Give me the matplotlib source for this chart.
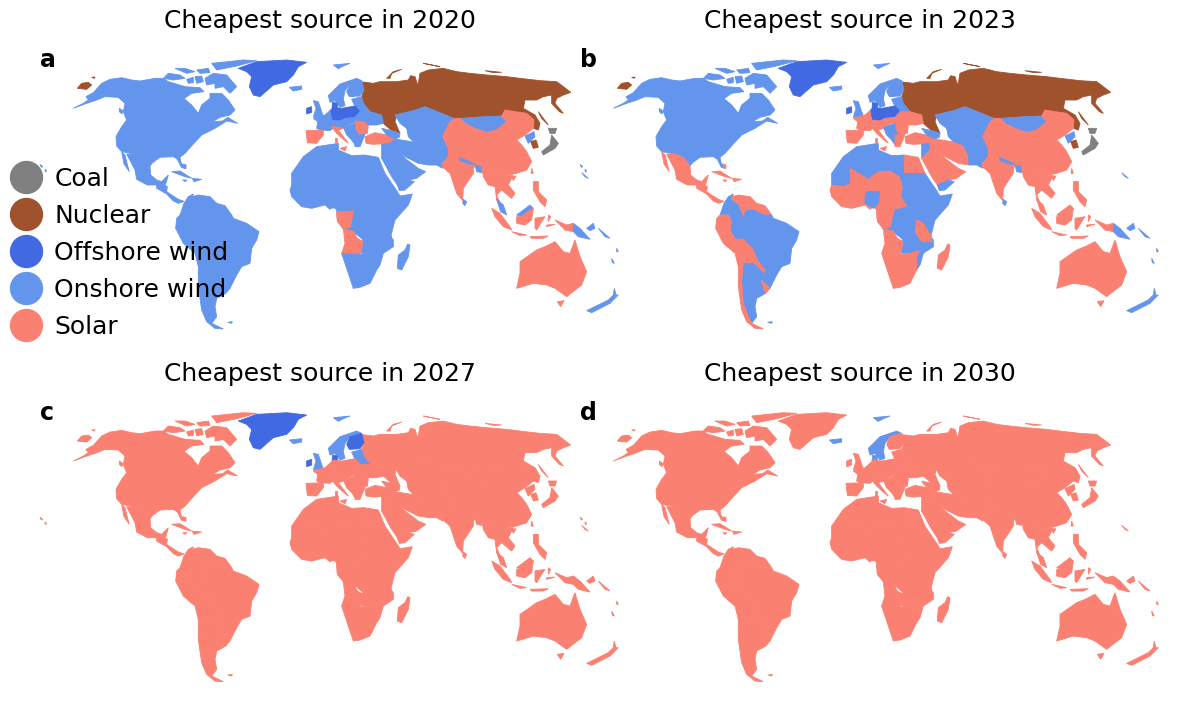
import matplotlib
matplotlib.use('Agg')
import matplotlib.pyplot as plt
from matplotlib.lines import Line2D
from matplotlib.patches import Polygon
import numpy as np

years = [2020, 2023, 2027, 2030]
panel_letters = ['a', 'b', 'c', 'd']

source_names = {'C': 'Coal', 'N': 'Nuclear', 'F': 'Offshore wind', 'O': 'Onshore wind', 'S': 'Solar'}
source_colors = {'C': 'gray', 'N': 'sienna', 'F': 'royalblue', 'O': 'cornflowerblue', 'S': 'salmon'}

# Outlines, in map units. Americas first, then the rest of the world.
west_regions = {
    'canada_usa': [
        [(40,205),(70,190),(85,180),(78,170),(100,158),(125,130),(150,118),(185,113),(215,120),(240,123),(285,115),(310,115),(325,125),(375,140),(420,143),(432,155),(395,160),(372,176),(395,195),(415,220),(425,195),(450,175),(450,160),(485,160),(505,180),(525,210),(510,225),(480,232),(458,245),(488,243),(503,232),(533,250),(500,243),(465,265),(425,285),(400,312),(375,340),(360,352),(362,365),(374,385),(364,382),(352,358),(340,350),(300,352),(278,368),(270,378),(250,352),(225,342),(185,335),(170,318),(168,290),(185,260),(200,240),(190,215),(195,190),(175,172),(135,170),(105,182),(80,190)],
        [(435,115),(460,100),(500,105),(530,140),(510,160),(490,140),(465,145),(465,130),(440,135)],
        [(310,115),(325,100),(360,105),(375,115),(340,120)],
        [(345,85),(375,85),(405,95),(380,100)],
        [(455,70),(550,60),(590,62),(530,78),(470,90)],
        [(405,110),(425,108),(430,125),(410,130)],
        [(380,118),(400,112),(400,128),(385,130)],
        [(410,90),(445,85),(450,98),(420,100)],
        [(178,205),(188,212),(186,222),(178,215)],
    ],
    'chukotka': [[(52,145),(65,130),(85,127),(95,135),(80,148)], [(95,112),(105,111),(103,115)]],
    'greenland': [[(535,85),(590,65),(680,60),(740,67),(715,80),(700,105),(680,125),(640,135),(600,170),(580,165),(568,140),(575,110),(560,95)]],
    'iceland': [[(688,142),(725,138),(725,148),(700,153)]],
    'hawaii': [[(-60,373),(-52,380),(-56,382)], [(-45,388),(-40,392),(-44,396)]],
    'mexico': [[(200,342),(225,342),(250,352),(270,378),(272,405),(290,420),(305,425),(325,405),(318,430),(305,445),(290,435),(262,435),(230,418),(225,390)], [(185,335),(195,345),(205,385),(208,395),(192,372)]],
    'central_america': [[(290,435),(310,432),(322,440),(320,455),(335,465),(355,478),(372,484),(355,490),(340,483),(320,462),(290,445)]],
    'caribbean': [[(335,395),(360,393),(395,415),(375,410)], [(397,415),(425,418),(402,425)], [(370,372),(378,375),(378,386),(372,384)], [(368,420),(380,420),(376,425)]],
    'colombia': [[(400,462),(385,470),(372,490),(360,525),(385,525),(395,545),(390,570),(405,595),(430,560),(430,530),(418,495),(395,478)]],
    'venezuela': [[(395,470),(415,465),(450,470),(470,490),(495,497),(515,525),(490,525),(460,510),(440,510),(430,530),(418,495),(395,478)]],
    'andes': [[(360,525),(385,525),(395,545),(390,570),(405,595),(430,595),(460,625),(475,660),(498,690),(495,702),(480,690),(460,670),(430,670),(415,680),(405,640),(370,610),(347,565),(350,535)]],
    'brazil': [[(430,530),(440,510),(460,510),(490,525),(515,525),(520,535),(560,550),(597,575),(590,600),(575,625),(570,670),(545,680),(530,705),(510,745),(483,720),(495,702),(498,690),(475,660),(460,625),(430,595),(405,595),(430,560)]],
    'argentina': [[(430,670),(460,670),(480,690),(495,702),(483,720),(490,745),(497,760),(470,775),(465,800),(470,830),(455,850),(445,830),(430,790),(425,720)], [(503,847),(517,845),(515,850)]],
    'chile': [[(415,680),(430,670),(425,720),(430,790),(445,830),(455,850),(490,867),(465,865),(440,845),(425,810),(415,740)]],
    'uruguay': [[(483,720),(510,745),(497,760),(490,745)]],
}

east_regions = {
    'maghreb': [[(175,310),(175,330),(215,347),(253,345),(253,400),(240,412),(210,393),(175,395),(145,418),(90,385),(92,430),(70,440),(35,435),(35,400),(70,350),(110,320)]],
    'egypt': [[(253,345),(295,352),(315,400),(253,400)]],
    'sahel': [[(35,435),(70,440),(92,430),(90,385),(145,418),(175,395),(210,393),(240,412),(250,440),(245,470),(265,500),(225,510),(210,560),(190,567),(172,540),(170,510),(160,500),(150,508),(135,495),(95,505),(65,500),(35,470),(30,450)]],
    'nigeria': [[(140,455),(180,455),(175,490),(160,505),(135,490),(135,470)]],
    'east_africa': [[(253,400),(315,400),(350,452),(360,468),(397,462),(385,495),(345,540),(332,590),(340,600),(340,620),(310,640),(300,675),(290,690),(290,650),(298,632),(270,640),(245,640),(240,605),(250,600),(220,575),(190,567),(210,560),(225,510),(265,500),(245,470),(250,440),(240,412)]],
    'tanzania': [[(290,540),(310,550),(335,590),(335,605),(305,605),(285,575)]],
    'congo': [[(170,515),(220,513),(212,560),(190,567),(172,545)]],
    'angola': [[(190,567),(220,573),(232,595),(250,605),(240,643),(185,640),(195,610)]],
    'south_africa': [[(185,640),(240,643),(270,640),(298,632),(290,650),(290,690),(270,730),(240,742),(220,745),(205,700)]],
    'madagascar': [[(383,612),(390,615),(385,650),(365,690),(352,685),(355,645),(375,630)]],

    'russia': [
        [(240,125),(280,130),(300,125),(350,125),(385,120),(392,107),(405,110),(412,132),(415,130),(420,100),(445,90),(490,85),(530,95),(570,100),(620,105),(680,110),(720,115),(780,122),(830,125),(850,140),(872,157),(850,165),(830,175),(825,190),(850,220),(838,215),(815,190),(815,165),(790,170),(770,180),(735,180),(730,205),(765,225),(780,250),(775,270),(760,265),(762,240),(740,220),(705,215),(675,210),(665,228),(615,230),(540,235),(525,235),(490,222),(435,200),(400,212),(350,225),(345,245),(360,280),(335,272),(310,250),(305,225),(270,215),(250,190),(245,170),(252,150)],
        [(320,115),(340,95),(365,88),(335,100),(330,115)],
        [(430,70),(480,80),(445,73)],
        [(615,92),(665,97),(640,98)],
        [(775,215),(805,255),(785,235)],
    ],
    'svalbard': [[(160,75),(210,70),(190,78),(175,86)]],
    'scandinavia': [[(145,167),(180,132),(230,115),(245,122),(210,132),(195,152),(190,177),(195,197),(180,202),(165,182),(150,187)]],
    'finland': [[(210,132),(245,122),(252,150),(240,168),(208,170),(200,155)]],
    'baltics': [[(215,178),(245,170),(250,190),(270,215),(240,215),(225,200)]],
    'denmark': [[(158,187),(172,190),(172,203),(156,205)]],
    'ireland': [[(80,205),(95,200),(95,217),(80,222)]],
    'uk': [[(100,182),(115,185),(125,215),(130,228),(100,232),(108,205)]],
    'germany_poland': [[(150,212),(160,202),(185,205),(225,198),(240,215),(225,232),(195,235),(180,243),(155,240)]],
    'france': [[(100,235),(135,225),(150,212),(155,240),(165,260),(150,272),(120,270),(110,265),(113,245)]],
    'iberia': [[(78,272),(130,270),(130,285),(110,310),(82,308)]],
    'italy': [[(155,260),(180,258),(190,265),(175,270),(205,310),(192,300),(170,280),(162,270)], [(180,325),(200,320),(195,333)], [(165,295),(172,295),(172,310),(165,310)]],
    'central_europe': [[(155,240),(180,243),(195,235),(225,232),(240,245),(215,250),(190,262),(165,258)]],
    'ukraine': [[(225,232),(240,215),(270,215),(305,225),(310,250),(290,255),(265,255),(240,245)]],
    'romania': [[(225,243),(250,245),(265,258),(262,280),(235,285),(225,265)]],
    'west_balkans': [[(190,262),(225,250),(225,265),(235,285),(225,315),(215,300),(200,285)]],
    'greece': [[(225,285),(255,283),(240,320),(225,320)]],
    'turkey': [[(255,290),(285,278),(320,285),(345,297),(330,310),(280,313),(258,310)]],
    'caucasus': [[(305,265),(335,272),(360,280),(358,292),(345,297),(320,285)]],

    'jordan': [[(305,312),(330,310),(330,330),(305,355)]],
    'iraq_iran': [[(330,310),(345,297),(395,305),(430,315),(445,345),(447,375),(415,370),(395,360),(375,350),(360,335),(330,330)]],
    'saudi': [[(330,330),(360,335),(375,355),(395,370),(415,385),(437,395),(410,415),(385,420),(352,435),(335,410),(305,355)]],
    'yemen': [[(352,435),(385,420),(403,425),(375,450),(358,452)]],
    'central_asia': [[(345,225),(400,212),(435,200),(490,222),(528,238),(510,245),(488,290),(505,325),(505,350),(485,370),(488,385),(470,375),(447,375),(445,345),(430,315),(400,305),(385,290),(380,265),(360,250)]],
    'mongolia': [[(540,235),(615,230),(665,228),(680,245),(650,270),(620,277),(585,265),(555,250)]],
    'china': [[(525,235),(540,235),(555,250),(585,265),(620,277),(650,270),(680,245),(665,228),(675,210),(705,215),(740,220),(762,240),(760,265),(735,285),(710,300),(725,315),(740,335),(755,365),(740,390),(710,400),(685,405),(670,410),(640,395),(605,380),(585,375),(560,370),(535,350),(505,325),(488,290),(510,245)], [(695,410),(708,408),(700,422)]],
    'india': [[(505,325),(535,350),(560,370),(590,370),(580,385),(580,400),(550,445),(548,482),(530,460),(510,400),(487,380),(488,370),(505,350)]],
    'nepal': [[(538,352),(585,372),(570,373),(540,362)]],
    'bangladesh': [[(585,375),(605,380),(605,398),(590,395)]],
    'sri_lanka': [[(550,478),(560,485),(555,497),(548,490)]],
    'indochina': [[(605,380),(640,395),(670,410),(700,405),(685,435),(705,460),(695,475),(665,450),(650,465),(665,500),(650,480),(645,440),(625,435),(610,410)]],
    'malaya': [[(650,478),(670,495),(680,525),(662,515)], [(710,525),(750,495),(760,505),(750,510),(725,530)]],
    'north_korea': [[(735,288),(762,275),(765,290),(745,310)]],
    'south_korea': [[(752,305),(768,300),(775,322),(760,325)]],
    'japan': [[(785,335),(810,315),(815,285),(835,310),(825,325),(790,345)], [(805,265),(830,265),(825,280),(810,280)]],
    'indonesia': [[(635,505),(660,520),(690,560),(695,570),(670,560),(645,530)], [(695,575),(740,585),(720,587)], [(750,590),(805,588),(790,595),(755,595)], [(725,530),(750,510),(760,505),(755,540),(735,555),(710,550),(710,530)], [(765,535),(795,530),(785,545),(770,570),(765,565)], [(805,525),(812,530),(805,545)], [(800,555),(825,553),(800,560)], [(825,540),(860,555),(880,550),(880,575),(855,570)]],
    'philippines': [[(760,425),(775,425),(775,455),(800,480),(795,500),(780,485),(760,450)], [(755,385),(760,400),(753,400)]],
    'png': [[(880,550),(900,565),(930,598),(895,590),(880,575)], [(920,565),(940,550),(945,565),(930,572)], [(955,565),(990,595),(975,590)], [(995,655),(1003,670),(997,668)], [(1010,625),(1015,635),(1010,635)], [(905,398),(925,415),(915,410)]],
    'australia': [[(710,745),(720,700),(720,665),(770,630),(795,620),(825,605),(850,635),(870,640),(885,600),(900,650),(920,695),(905,735),(860,770),(825,745),(800,735),(760,730)], [(832,785),(852,782),(842,800)]],
    'new_zealand': [[(920,812),(985,780),(990,790),(935,818)], [(985,780),(1000,765),(1003,745),(1008,765),(1015,765),(990,790)]],
}

# Cheapest source of each region in 2020, 2023, 2027, 2030
cheapest = {
    'canada_usa': 'OOSS', 'chukotka': 'NNSS', 'greenland': 'FFFS', 'iceland': 'OOOO', 'hawaii': 'OOSS',
    'mexico': 'OSSS', 'central_america': 'OSSS', 'caribbean': 'OSSS', 'colombia': 'OOSS', 'venezuela': 'OSSS',
    'andes': 'OSSS', 'brazil': 'OOSS', 'argentina': 'OOSS', 'chile': 'OSSS', 'uruguay': 'OSSS',
    'maghreb': 'OOSS', 'egypt': 'OSSS', 'sahel': 'OSSS', 'nigeria': 'OOSS', 'east_africa': 'OOSS',
    'tanzania': 'OSSS', 'congo': 'SSSS', 'angola': 'SSSS', 'south_africa': 'OSSS', 'madagascar': 'OSSS',
    'russia': 'NNSS', 'svalbard': 'OOOO', 'scandinavia': 'OOOO', 'finland': 'OOFS', 'baltics': 'OOOS',
    'denmark': 'FFFO', 'ireland': 'FFFS', 'uk': 'OOOS', 'germany_poland': 'FFSS', 'france': 'OSSS',
    'iberia': 'SSSS', 'italy': 'SSSS', 'central_europe': 'OSSS', 'ukraine': 'OSSS', 'romania': 'SSSS',
    'west_balkans': 'OOSS', 'greece': 'OSSS', 'turkey': 'SSSS', 'caucasus': 'OOSS', 'jordan': 'OOSS',
    'iraq_iran': 'OSSS', 'saudi': 'OSSS', 'yemen': 'OOSS', 'central_asia': 'OOSS', 'mongolia': 'OOSS',
    'china': 'SSSS', 'india': 'SSSS', 'nepal': 'OOSS', 'bangladesh': 'OOSS', 'sri_lanka': 'OOSS',
    'indochina': 'SSSS', 'malaya': 'OSSS', 'north_korea': 'OOSS', 'south_korea': 'NNSS', 'japan': 'CCSS',
    'indonesia': 'SSSS', 'philippines': 'SSSS', 'png': 'OOSS', 'australia': 'SSSS', 'new_zealand': 'OOSS',
}


# Puts an outline from either list into the shared map coordinates
def to_map(outline, x_start):
    pts = np.array(outline, dtype=float) / 3
    pts[:, 0] += x_start
    pts[:, 1] += 40
    return pts


def draw_world(ax, year_idx):
    for regions, x_start in [(west_regions, 60), (east_regions, 280)]:
        for name, outlines in regions.items():
            color = source_colors[cheapest[name][year_idx]]
            for outline in outlines:
                ax.add_patch(Polygon(to_map(outline, x_start), closed=True, facecolor=color,
                                     edgecolor=color, lw=0.6, clip_on=False))


fig = plt.figure(figsize=(12, 7.01), dpi=100)

panel_offsets = [(0, 0), (540, 0), (0, 352.7), (540, 352.7)]
for i, (dx, dy) in enumerate(panel_offsets):
    ax = fig.add_axes([dx / 1200, 1 - (340 + dy) / 701, 640 / 1200, 300 / 701])
    ax.set_xlim(0, 640)
    ax.set_ylim(340, 40)
    ax.axis('off')
    draw_world(ax, i)
    ax.set_title('Cheapest source in %d' % years[i], fontsize=18, pad=8.5)
    ax.text(40, 60, panel_letters[i], fontsize=17, fontweight='bold', ha='left', va='center')

handles = [Line2D([], [], linestyle='none', marker='o', markersize=23, color=source_colors[k],
                  label=source_names[k]) for k in 'CNFOS']
fig.legend(handles=handles, loc='center left', bbox_to_anchor=(0.005, 1 - 253 / 701), frameon=False,
           fontsize=18, labelspacing=0.52, handletextpad=0.34, handlelength=1.6, borderpad=0,
           borderaxespad=0)

fig.savefig('out.png', dpi=100)
